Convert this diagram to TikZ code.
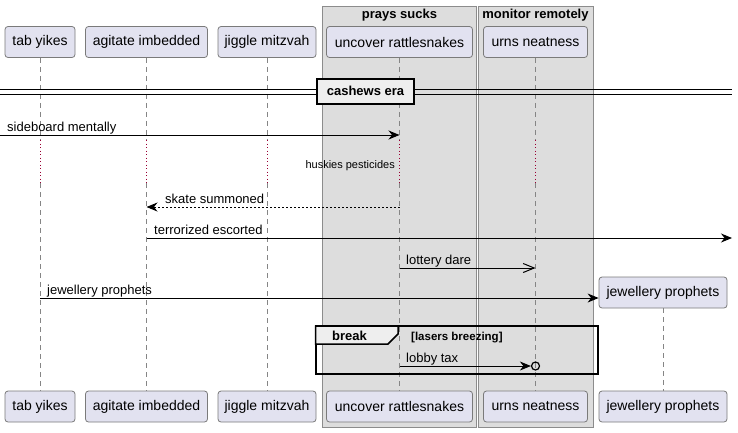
\documentclass[tikz,border=0pt]{standalone}
\usepackage{fontspec}
\setmainfont{Liberation Sans}
\usetikzlibrary{arrows.meta,calc}

\definecolor{partfill}{HTML}{E2E2F0}
\definecolor{partline}{HTML}{7A7A7A}
\definecolor{grpfill}{HTML}{DDDDDD}
\definecolor{grpline}{HTML}{8C8C8C}
\definecolor{lifecol}{HTML}{858585}
\definecolor{delaycol}{HTML}{990033}
\definecolor{tabfill}{HTML}{EEEEEE}

\begin{document}
\begin{tikzpicture}[x=1pt,y=-1pt,
  part/.style={draw=partline, fill=partfill, rounded corners=3pt, line width=0.8pt,
    minimum height=31pt, inner sep=0pt, font=\fontsize{14}{16}\selectfont},
  grp/.style={draw=grpline, fill=grpfill, line width=0.9pt},
  grptitle/.style={font=\bfseries\fontsize{13}{15}\selectfont, anchor=base, inner sep=0pt},
  lifel/.style={draw=lifecol, line width=0.9pt, dash pattern=on 5pt off 4pt},
  delayl/.style={draw=delaycol, line width=0.9pt, dash pattern=on 1pt off 2.5pt},
  msg/.style={line width=1pt, -{Stealth[length=11pt,width=9pt,inset=3.5pt]}},
  retmsg/.style={line width=1pt, dash pattern=on 2pt off 2pt, -{Stealth[length=11pt,width=9pt,inset=3.5pt]}},
  openmsg/.style={line width=1pt, -{Straight Barb[length=11pt,width=9pt,line width=1pt]}},
  lbl/.style={font=\fontsize{13}{15}\selectfont, anchor=base west, inner sep=0pt},
  frame/.style={draw=black, line width=2pt},
]
\useasboundingbox (0,0) rectangle (738,432);

% boxes grouping participants
\draw[grp] (322,6) rectangle (476.5,427);
\draw[grp] (478.5,6) rectangle (593,427);
\node[grptitle] at (399.5,18) {prays sucks};
\node[grptitle] at (535.5,18) {monitor remotely};

% participant heads
\node[part, minimum width=70pt]  (p1) at (40,42)    {tab yikes};
\node[part, minimum width=122pt] (p2) at (146.5,42) {agitate imbedded};
\node[part, minimum width=98pt]  (p3) at (267,42)   {jiggle mitzvah};
\node[part, minimum width=146pt] (p4) at (399.5,42) {uncover rattlesnakes};
\node[part, minimum width=104pt] (p5) at (535.5,42) {urns neatness};
\node[part, minimum width=128pt] (p6) at (663,292.5) {jewellery prophets};

% participant feet
\node[part, minimum width=70pt]  (b1) at (40,406.5)    {tab yikes};
\node[part, minimum width=122pt] (b2) at (146.5,406.5) {agitate imbedded};
\node[part, minimum width=98pt]  (b3) at (267,406.5)   {jiggle mitzvah};
\node[part, minimum width=146pt] (b4) at (399.5,406.5) {uncover rattlesnakes};
\node[part, minimum width=104pt] (b5) at (535.5,406.5) {urns neatness};
\node[part, minimum width=128pt] (b6) at (663,406.5)   {jewellery prophets};

% delay band on the lifelines
\coordinate (dtop) at (0,140);
\coordinate (dbot) at (0,183);
\foreach \i in {1,...,5}{
  \draw[lifel] (p\i.south) -- (p\i.south |- dtop);
  \draw[delayl] (p\i.south |- dtop) -- (p\i.south |- dbot);
  \draw[lifel] (p\i.south |- dbot) -- (b\i.north);
}
\draw[lifel] (p6.south) -- (b6.north);

% divider
\draw[line width=1pt] (0,89) -- (732,89);
\draw[line width=1pt] (0,94) -- (732,94);
\node[draw=black, fill=tabfill, line width=2pt, minimum width=97pt, minimum height=25pt,
      inner sep=0pt, font=\bfseries\fontsize{13}{15}\selectfont] (div) at (365.5,91) {cashews era};

% rows of messages
\coordinate (r1) at (0,135);
\coordinate (r3) at (0,207);
\coordinate (r4) at (0,238);
\coordinate (r5) at (0,268);
\coordinate (r6) at (0,298);
\coordinate (r8) at (0,366);
\coordinate (rend) at (732,238);

\draw[msg] (r1) -- (r1 -| p4);
\node[lbl] at (7,131) {sideboard mentally};

\node[font=\fontsize{11}{13}\selectfont, anchor=base east, inner sep=0pt] at (395,168) {huskies pesticides};

\draw[retmsg] (r3 -| p4) -- (r3 -| p2);
\node[lbl] at (165,203) {skate summoned};

\draw[msg] (r4 -| p2) -- (rend);
\node[lbl] at (154,234) {terrorized escorted};

\draw[openmsg] (r5 -| p4) -- (r5 -| p5);
\node[lbl] at (406,264) {lottery dare};

\draw[msg] (r6 -| p1) -- (r6 -| p6.west);
\node[lbl] at (47,294) {jewellery prophets};

% break fragment
\draw[frame] (315.5,326) rectangle (597.5,374);
\draw[fill=tabfill, line width=1.5pt] (315.5,326) -- (398,326) -- (398,334) -- (388,344) -- (315.5,344) -- cycle;
\node[font=\bfseries\fontsize{13}{15}\selectfont, anchor=base west, inner sep=0pt] at (332,340) {break};
\node[font=\bfseries\fontsize{11.5}{13}\selectfont, anchor=base west, inner sep=0pt] at (411,340) {[lasers breezing]};

\node[circle, draw=black, line width=1.2pt, minimum size=8pt, inner sep=0pt] (lt) at (535.5,366) {};
\draw[msg] (r8 -| p4) -- (lt.west);
\node[lbl] at (406,362) {lobby tax};
\end{tikzpicture}
\end{document}
